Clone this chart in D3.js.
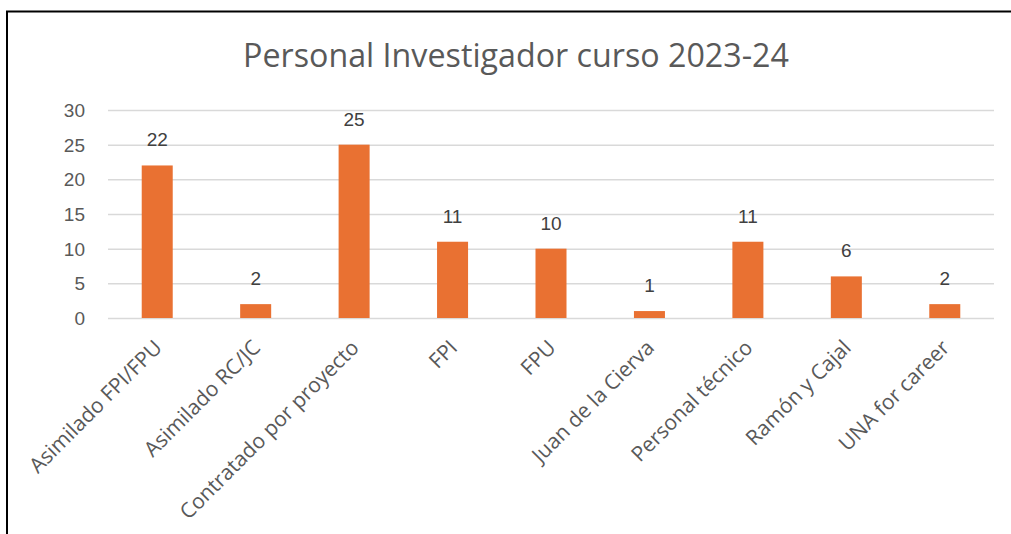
<!DOCTYPE html>
<html>
<head>
<meta charset="utf-8">
<script src="https://cdn.jsdelivr.net/npm/d3@7"></script>
<style>
  html, body { margin: 0; padding: 0; background: #fff; }
  svg { display: block; }
</style>
</head>
<body>
<svg id="chart" width="1011" height="534"></svg>
<script>
const title = "Personal Investigador curso 2023-24";
const categories = ["Asimilado FPI/FPU", "Asimilado RC/JC", "Contratado por proyecto", "FPI", "FPU", "Juan de la Cierva", "Personal técnico", "Ramón y Cajal", "UNA for career"];
const values = [22, 2, 25, 11, 10, 1, 11, 6, 2];
const yTicks = [0, 5, 10, 15, 20, 25, 30];

(function () {
const svg = d3.select("#chart");
const W = 1011, H = 534;
svg.append("rect").attr("width", W).attr("height", H).attr("fill", "#fff");
// outer frame (top and left visible)
svg.append("path").attr("d", `M7,540 L7,11.5 L1020,11.5`).attr("fill", "none").attr("stroke", "#000").attr("stroke-width", 2);

const pLeft = 108, pRight = 994, pTop = 110, pBottom = 318;
const x = d3.scaleBand().domain(categories).range([pLeft, pRight]).paddingInner(0.685).paddingOuter(0.3425);
const y = d3.scaleLinear().domain([0, 30]).range([pBottom, pTop]);

// gridlines
const grid = svg.append("g").attr("transform", `translate(${pLeft},0)`)
  .call(d3.axisLeft(y).tickValues(yTicks).tickSize(-(pRight - pLeft)).tickFormat(""));
grid.select(".domain").remove();
grid.selectAll("line").attr("stroke", "#d9d9d9").attr("stroke-width", 1.5);

// y tick labels
const yAx = svg.append("g").attr("transform", `translate(85,0)`).call(d3.axisLeft(y).tickValues(yTicks).tickSize(0).tickPadding(0));
yAx.select(".domain").remove();
yAx.selectAll("text").attr("font-family", "'Liberation Sans', Arial, sans-serif").attr("font-size", 19).attr("fill", "#595959").attr("text-anchor", "end").attr("dy", "0.35em");

// bars
svg.append("g").selectAll("rect").data(values).join("rect")
  .attr("x", (d, i) => x(categories[i]))
  .attr("width", x.bandwidth())
  .attr("y", d => y(d))
  .attr("height", d => y(0) - y(d))
  .attr("fill", "#e97132");

// value labels
svg.append("g").selectAll("text").data(values).join("text")
  .attr("x", (d, i) => x(categories[i]) + x.bandwidth() / 2)
  .attr("y", d => y(d) - 19)
  .attr("text-anchor", "middle")
  .attr("font-family", "'Liberation Sans', Arial, sans-serif")
  .attr("font-size", 19)
  .attr("fill", "#404040")
  .text(d => d);

// x category labels
const xAx = svg.append("g").attr("transform", `translate(0,${pBottom})`).call(d3.axisBottom(x).tickSize(0).tickPadding(0));
xAx.select(".domain").remove();
xAx.selectAll("text")
  .attr("font-family", "'Open Sans', sans-serif")
  .attr("font-size", 21)
  .attr("fill", "#595959")
  .attr("text-anchor", "end")
  .attr("transform", "translate(6,31) rotate(-45)")
  .attr("dy", 0)
  .attr("y", 0);

// title
const t = svg.append("text")
  .attr("x", 516).attr("y", 67)
  .attr("text-anchor", "middle")
  .attr("font-family", "'Open Sans', sans-serif")
  .attr("font-size", 31)
  .attr("fill", "#595959")
  .text(title);
const tw = t.node().getComputedTextLength();
t.attr("font-size", 31 * 546 / tw);
})();
</script>
</body>
</html>
